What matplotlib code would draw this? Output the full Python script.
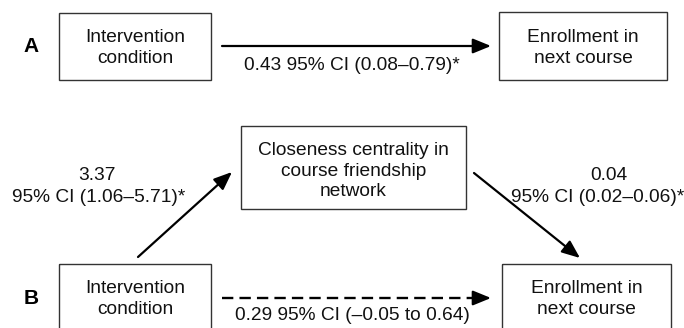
import matplotlib.pyplot as plt
from matplotlib.patches import Rectangle, FancyArrowPatch

plt.rcParams['font.family'] = ['Liberation Sans', 'DejaVu Sans']

# boxes: label, (x0, y0, x1, y1) in pixel coords of the figure
box_labels = ['Intervention\ncondition', 'Enrollment in\nnext course',
              'Closeness centrality in\ncourse friendship\nnetwork',
              'Intervention\ncondition', 'Enrollment in\nnext course']
box_extents = [(59, 13, 211, 80), (499, 12, 667, 80),
               (241, 126, 466, 209),
               (59, 264, 211, 340), (502, 264, 671, 340)]
box_text_y = [48, 48, 171, 299, 299]

# paths: start, end, dashed
path_starts = [(222, 46), (138, 257), (474, 173), (222, 298)]
path_ends = [(491, 46), (232, 172), (580, 258), (491, 298)]
path_dashed = [False, False, False, True]

# coefficient labels
coef_texts = ['0.43 95% CI (0.08\u20130.79)*', '3.37', '95% CI (1.06\u20135.71)*',
              '0.04', '95% CI (0.02\u20130.06)*', '0.29 95% CI (\u20130.05 to 0.64)']
coef_pos = [(352, 66), (97, 175), (99, 197), (609, 175), (598, 197), (352, 316)]

panel_labels = ['A', 'B']
panel_pos = [(31, 46), (31, 298)]

fig = plt.figure(figsize=(6.84, 3.28), dpi=100)
ax = fig.add_axes([0, 0, 1, 1])
ax.set_xlim(0, 684)
ax.set_ylim(328, 0)
ax.axis('off')

fs = 13.8
ls = 1.3
for lab, (x0, y0, x1, y1), ty in zip(box_labels, box_extents, box_text_y):
    ax.add_patch(Rectangle((x0, y0), x1 - x0, y1 - y0, fill=False,
                           edgecolor='#333333', linewidth=1.0, clip_on=False))
    ax.text((x0 + x1) / 2, ty, lab, ha='center', va='center', fontsize=fs,
            linespacing=ls, color='#111111')

head = 11
for s, e, d in zip(path_starts, path_ends, path_dashed):
    if d:
        # dashed shaft, solid head
        ax.plot([s[0], e[0] - head], [s[1], e[1]], color='black', lw=1.7,
                linestyle=(0, (4.8, 2.6)), solid_capstyle='butt')
        s = (e[0] - head - 1, e[1])
    arr = FancyArrowPatch(s, e, arrowstyle='-|>,head_length=11,head_width=4.5',
                          linewidth=1.6, color='black', shrinkA=0, shrinkB=0,
                          mutation_scale=1)
    ax.add_patch(arr)

for t, (x, y) in zip(coef_texts, coef_pos):
    ax.text(x, y, t, ha='center', va='center', fontsize=fs, color='#111111')

for t, (x, y) in zip(panel_labels, panel_pos):
    ax.text(x, y, t, ha='center', va='center', fontsize=15, fontweight='bold')

fig.savefig('out.png', dpi=100)
